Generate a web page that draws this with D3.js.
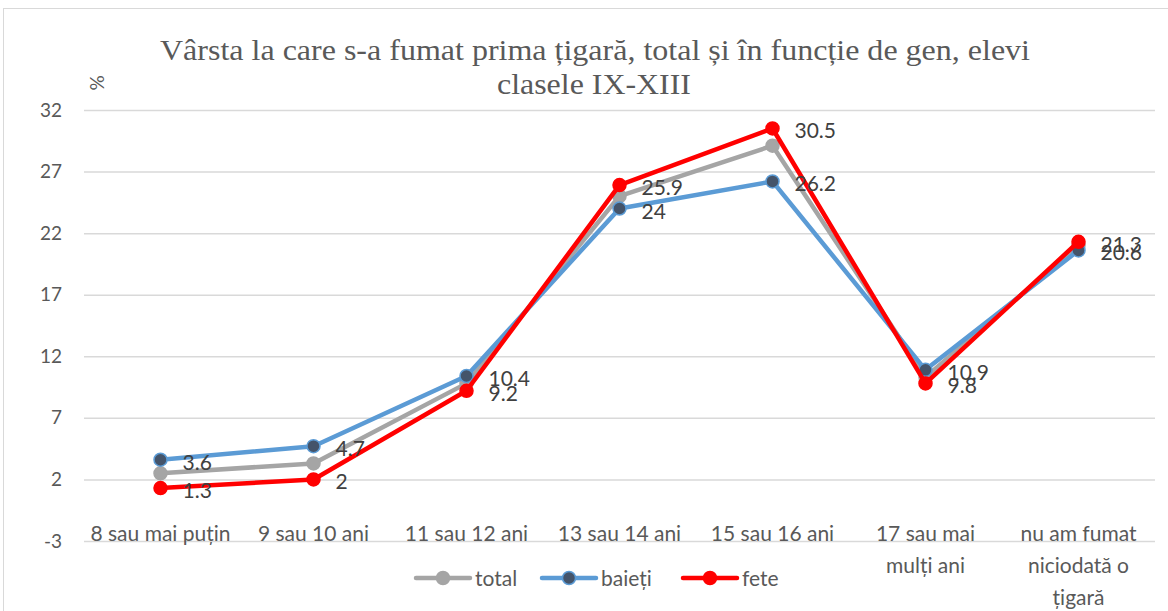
<!DOCTYPE html>
<html>
<head>
<meta charset="utf-8">
<script src="https://cdn.jsdelivr.net/npm/d3@7"></script>
<style>
  body { margin: 0; background: #fff; }
  svg text { font-family: Lato, "Open Sans", sans-serif; }
</style>
</head>
<body>
<div id="chart"></div>
<script>
// ── Data ───────────────────────────────────────────────────────────────
const categories = [
  ["8 sau mai puțin"],
  ["9 sau 10 ani"],
  ["11 sau 12 ani"],
  ["13 sau 14 ani"],
  ["15 sau 16 ani"],
  ["17 sau mai", "mulți ani"],
  ["nu am fumat", "niciodată o", "țigară"],
];
const totalValues = [2.5, 3.3, 9.8, 25.0, 29.1, 10.3, 21.0];
const baietiValues = [3.6, 4.7, 10.4, 24, 26.2, 10.9, 20.6];
const feteValues = [1.3, 2, 9.2, 25.9, 30.5, 9.8, 21.3];
const yTicks = [-3, 2, 7, 12, 17, 22, 27, 32];

const series = [
  { name: "total", values: totalValues, line: "#A5A5A5", fill: "#A5A5A5", labels: false },
  { name: "baieți", values: baietiValues, line: "#5B9BD5", fill: "#44546A", labels: true },
  { name: "fete", values: feteValues, line: "#FF0000", fill: "#FF0000", labels: true },
];

// ── Dimensions ─────────────────────────────────────────────────────────
const W = 1168, H = 611;
const margin = { top: 110, right: 13, bottom: 70, left: 84 };
const width = W - margin.left - margin.right;
const height = H - margin.top - margin.bottom;
const FS = "21px";

const svg = d3.select("#chart").append("svg")
  .attr("width", W).attr("height", H);

svg.append("rect")
  .attr("x", 3.5).attr("y", 8.5)
  .attr("width", W).attr("height", H)
  .attr("fill", "none").attr("stroke", "#d9d9d9");

const g = svg.append("g").attr("transform", `translate(${margin.left},${margin.top})`);

// ── Scales ─────────────────────────────────────────────────────────────
const x = d3.scaleBand().domain(d3.range(categories.length)).range([0, width]);
const y = d3.scaleLinear().domain([-3, 32]).range([height, 0]);
const cx = (i) => x(i) + x.bandwidth() / 2;

// ── Grid ───────────────────────────────────────────────────────────────
g.append("g")
  .call(d3.axisLeft(y).tickValues(yTicks).tickSize(-width).tickFormat(""))
  .call((ax) => ax.select(".domain").remove())
  .call((ax) => ax.selectAll("line").attr("stroke", "#d9d9d9").attr("stroke-width", 1.5));

// ── Y labels ───────────────────────────────────────────────────────────
g.append("g")
  .call(d3.axisLeft(y).tickValues(yTicks).tickSize(0).tickPadding(22)
    .tickFormat((d) => String(d)))
  .call((ax) => ax.select(".domain").remove())
  .call((ax) => ax.selectAll("text")
    .attr("fill", "#595959").style("font-size", "19px")
    .style("font-family", "Lato, sans-serif"));

// ── X labels ───────────────────────────────────────────────────────────
const xl = g.append("g").attr("transform", `translate(0,${height})`);
categories.forEach((lines, i) => {
  const t = xl.append("text")
    .attr("x", cx(i)).attr("y", 0)
    .attr("text-anchor", "middle")
    .attr("fill", "#595959").style("font-size", FS);
  lines.forEach((l, k) => {
    t.append("tspan").attr("x", cx(i)).attr("dy", k === 0 ? 0 : 32).text(l);
  });
});

// ── Lines ──────────────────────────────────────────────────────────────
const line = d3.line().x((d, i) => cx(i)).y((d) => y(d));

series.forEach((s) => {
  g.append("path")
    .datum(s.values)
    .attr("fill", "none")
    .attr("stroke", s.line)
    .attr("stroke-width", 4.5)
    .attr("stroke-linejoin", "round")
    .attr("d", line);

  g.selectAll(null).data(s.values).join("circle")
    .attr("cx", (d, i) => cx(i))
    .attr("cy", (d) => y(d))
    .attr("r", 6.5)
    .attr("fill", s.fill)
    .attr("stroke", s.line)
    .attr("stroke-width", 1.5);
});

// ── Value labels ───────────────────────────────────────────────────────
series.filter((s) => s.labels).forEach((s) => {
  g.selectAll(null).data(s.values).join("text")
    .attr("x", (d, i) => cx(i) + 22)
    .attr("y", (d) => y(d) + 10)
    .attr("fill", "#404040")
    .style("font-size", FS)
    .text((d) => d);
});

// ── Title ──────────────────────────────────────────────────────────────
const title = svg.append("text")
  .attr("text-anchor", "middle")
  .attr("fill", "#595959")
  .style("font-family", "'Liberation Serif', 'Times New Roman', serif")
  .style("font-size", "30px");
title.append("tspan").attr("x", 595).attr("y", 60)
  .attr("textLength", 870).attr("lengthAdjust", "spacingAndGlyphs")
  .text("Vârsta la care s-a fumat prima țigară, total și în funcție de gen, elevi");
title.append("tspan").attr("x", 594).attr("y", 94)
  .attr("textLength", 194).attr("lengthAdjust", "spacingAndGlyphs")
  .text("clasele IX-XIII");

svg.append("text")
  .attr("transform", "translate(104,83) rotate(-90)")
  .attr("text-anchor", "middle")
  .attr("fill", "#595959")
  .style("font-size", "19px")
  .text("%");

// ── Legend ─────────────────────────────────────────────────────────────
const legendX = [416, 542, 683];
const legend = svg.append("g").attr("transform", "translate(0,578)");
series.forEach((s, i) => {
  const lg = legend.append("g").attr("transform", `translate(${legendX[i]},0)`);
  lg.append("line").attr("x1", 0).attr("x2", 54)
    .attr("stroke", s.line).attr("stroke-width", 4.5).attr("stroke-linecap", "round");
  lg.append("circle").attr("cx", 27).attr("r", 6.5)
    .attr("fill", s.fill).attr("stroke", s.line).attr("stroke-width", 1.5);
  lg.append("text").attr("x", 59).attr("y", 8)
    .attr("fill", "#595959").style("font-size", FS).text(s.name);
});
</script>
</body>
</html>
